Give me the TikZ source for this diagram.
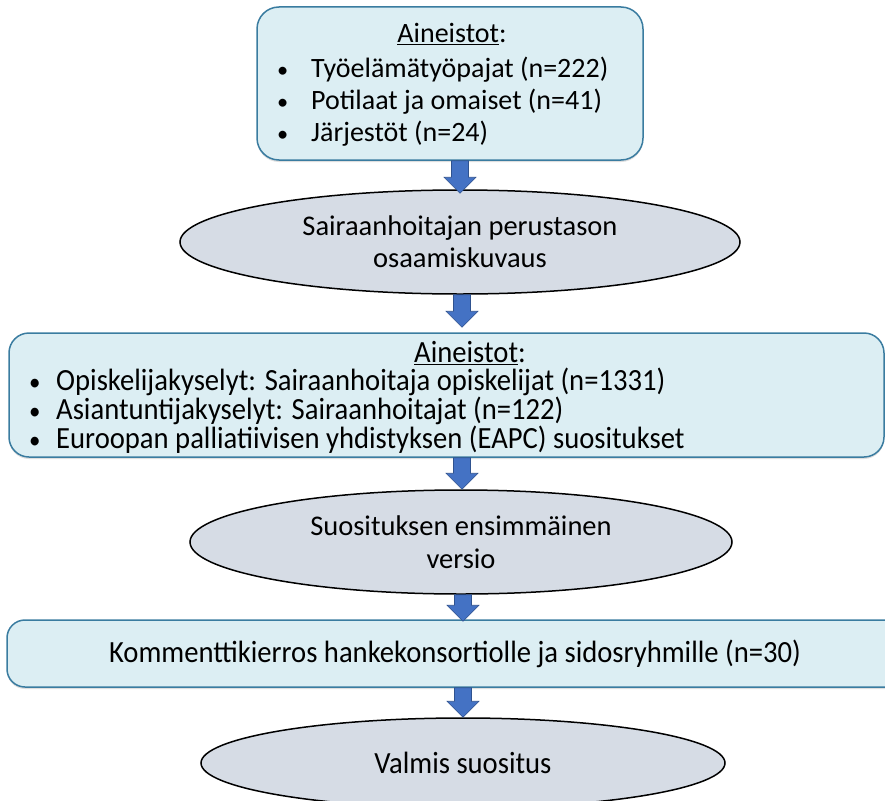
\documentclass[tikz,border=0pt]{standalone}
\usepackage{fontspec}
\setmainfont{Carlito}
\newfontfamily\narrowfont[FakeStretch=0.93]{Carlito}
\usepackage{tikz}
\usetikzlibrary{
    calc,
    shadows,
    shapes.geometric
}
\definecolor{boxfill}{HTML}{DCEEF3}
\definecolor{boxedge}{HTML}{3A7CA0}
\definecolor{ellfill}{HTML}{D6DCE5}
\definecolor{arrowfill}{HTML}{4472C4}
\definecolor{arrowedge}{HTML}{2F528F}

\begin{document}
\begin{tikzpicture}[x=1pt, y=-1pt,
        databox/.style={draw=boxedge, fill=boxfill, line width=1.5pt, rounded corners=22pt, rectangle, inner sep=0pt,
            drop shadow={opacity=0.25, shadow xshift=0pt, shadow yshift=-2pt}},
        stage/.style={draw=black, fill=ellfill, line width=1.5pt, ellipse, inner sep=0pt, align=center,
            font=\fontsize{28.5}{32}\selectfont},
        wide/.style={font=\fontsize{28}{32}\selectfont},
        narrow/.style={font=\narrowfont\fontsize{30.8}{29}\selectfont},
        dot/.style={},
        down/.style={draw=arrowedge, fill=arrowfill, line width=0.6pt,
            to path={let \p1=(\tikztostart), \p2=(\tikztotarget) in
                (\x1-8.5pt,\y1) -- (\x1+8.5pt,\y1) -- (\x1+8.5pt,\y2+16pt) -- (\x1+16pt,\y2+16pt)
                -- (\x1,\y2) -- (\x1-16pt,\y2+16pt) -- (\x1-8.5pt,\y2+16pt) -- cycle}}]
    \useasboundingbox (0,0) rectangle (885,800);

    % first data box
    \node[databox, minimum width=386pt, minimum height=153pt] (data1) at (450,83.5) {};
    \node[wide] (data1head) at (452,34) {\underline{Aineistot}:};
    \node[wide, anchor=west, align=left, inner sep=0pt] (data1list) at (277,102)
        {\makebox[34pt][l]{\scalebox{0.8}{\textbullet}}Työelämätyöpajat (n=222)\\
         \makebox[34pt][l]{\scalebox{0.8}{\textbullet}}Potilaat ja omaiset (n=41)\\
         \makebox[34pt][l]{\scalebox{0.8}{\textbullet}}Järjestöt (n=24)};

    \node[stage, minimum width=560pt, minimum height=104pt] (draft0) at (460,242)
        {Sairaanhoitajan perustason\\osaamiskuvaus};

    % second data box
    \node[databox, rounded corners=20pt, minimum width=875pt, minimum height=124pt] (data2) at (446.5,395) {};
    \node[narrow] (data2head) at (470,353) {\underline{Aineistot}:};
    \node[narrow, anchor=west, align=left, inner sep=0pt] (data2list) at (29,411)
        {\makebox[27pt][l]{\scalebox{0.8}{\textbullet}}Opiskelijakyselyt: Sairaanhoitaja opiskelijat (n=1331)\\
         \makebox[27pt][l]{\scalebox{0.8}{\textbullet}}Asiantuntijakyselyt: Sairaanhoitajat (n=122)\\
         \makebox[27pt][l]{\scalebox{0.8}{\textbullet}}Euroopan palliatiivisen yhdistyksen (EAPC) suositukset};

    \node[stage, minimum width=542pt, minimum height=104pt, font=\fontsize{28.5}{33}\selectfont] (draft1) at (461,542)
        {Suosituksen ensimmäinen\\versio};

    \node[databox, rounded corners=18pt, minimum width=896pt, minimum height=67pt, narrow] (review) at (455,653.5)
        {Kommenttikierros hankekonsortiolle ja sidosryhmille (n=30)};

    \node[stage, minimum width=524pt, minimum height=90pt, narrow] (final) at (463,763) {Valmis suositus};

    \draw[down] ([xshift=10pt]data1.south) to ([yshift=-4pt]draft0.north);
    \draw[down] ([xshift=2pt]draft0.south) to ([yshift=5pt]data2.north);
    \draw[down] ([xshift=15.5pt]data2.south) to (draft1.north);
    \draw[down] ([xshift=2pt]draft1.south) to ([yshift=-2pt]review.north);
    \draw[down] ([xshift=8pt]review.south) to (final.north);
\end{tikzpicture}
\end{document}
